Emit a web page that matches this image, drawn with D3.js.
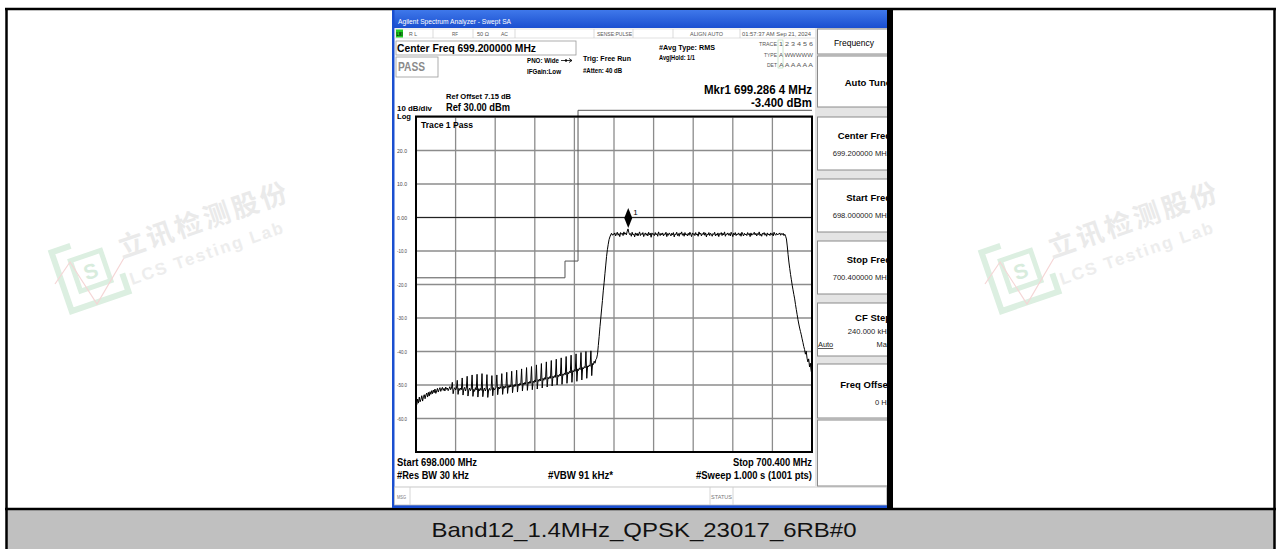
<!DOCTYPE html>
<html><head><meta charset="utf-8">
<script src="https://cdn.jsdelivr.net/npm/d3@7"></script>
<style>html,body{margin:0;padding:0;background:#fff;overflow:hidden}</style>
</head><body><svg id="c" width="1280" height="549"></svg>
<script>
// ---------------- data ----------------
const startFreq = 698.0, stopFreq = 700.4;
const refLevel = 30, bottomLevel = -70;
const yTickValues = [20, 10, 0, -10, -20, -30, -40, -50, -60];
const yTickLabels = ["20.0", "10.0", "0.00", "-10.0", "-20.0", "-30.0", "-40.0", "-50.0", "-60.0"];
// trace levels (dBm), evenly spaced across the sweep 698.000 - 700.400 MHz
const traceLevels = [
  -54.6,-55.8,-54.2,-55.4,-53.6,-55.0,-54.3,-53.2,-54.8,-53.5,
  -52.9,-54.1,-53.0,-52.4,-53.6,-52.2,-53.3,-52.0,-52.8,-51.7,
  -52.6,-51.5,-52.3,-51.2,-52.5,-51.8,-51.0,-52.1,-51.4,-50.8,
  -51.9,-51.2,-50.7,-51.6,-51.0,-51.8,-50.6,-51.3,-50.9,-51.7,
  -51.1,-50.5,-51.4,-51.0,-49.2,-52.6,-51.3,-50.8,-51.5,-51.1,
  -48.6,-52.8,-51.0,-51.6,-50.9,-51.4,-47.9,-53.0,-51.2,-50.7,
  -51.8,-51.0,-47.4,-53.3,-51.5,-50.9,-51.7,-51.2,-47.0,-53.4,
  -51.3,-51.9,-50.8,-51.5,-46.8,-53.6,-51.1,-51.7,-51.0,-51.6,
  -46.6,-53.5,-51.4,-50.9,-51.8,-51.2,-46.9,-53.7,-51.5,-51.0,
  -51.6,-51.3,-47.2,-53.2,-50.8,-51.5,-51.1,-50.7,-47.0,-52.9,
  -50.6,-51.2,-50.5,-51.0,-46.6,-52.8,-50.4,-51.0,-50.3,-50.8,
  -46.2,-52.5,-50.2,-50.7,-50.0,-50.6,-45.9,-52.3,-50.1,-50.5,
  -49.8,-50.4,-45.6,-52.1,-49.7,-50.2,-49.5,-50.0,-45.2,-51.8,
  -49.4,-49.9,-49.2,-49.8,-44.8,-51.6,-49.1,-49.6,-48.9,-49.5,
  -44.5,-51.4,-48.8,-49.3,-48.5,-49.1,-44.0,-51.2,-48.4,-48.9,
  -48.2,-48.8,-43.6,-50.9,-48.0,-48.6,-47.8,-48.3,-43.1,-50.6,
  -47.7,-48.2,-47.5,-48.0,-42.7,-50.3,-47.4,-47.9,-47.2,-47.7,
  -42.3,-50.0,-47.0,-47.5,-46.8,-47.3,-41.9,-49.8,-46.7,-47.1,
  -46.4,-46.9,-41.5,-49.5,-46.2,-46.7,-45.9,-46.4,-41.1,-49.2,
  -45.7,-46.1,-45.4,-45.9,-40.7,-48.9,-45.2,-45.7,-44.9,-45.4,
  -40.3,-48.5,-44.8,-45.2,-44.5,-44.9,-40.0,-48.0,-44.3,-44.6,
  -44.0,-44.4,-39.8,-47.2,-43.6,-43.9,-42.9,-43.5,-42.4,-42.0,
  -40.8,-38.2,-35.5,-32.6,-30.0,-27.3,-24.8,-21.9,-19.5,-16.8,
  -14.2,-11.6,-9.6,-8.0,-6.6,-5.8,-5.2,-4.7,-5.3,-4.9,
  -5.1,-4.6,-5.5,-4.9,-4.4,-5.3,-4.8,-5.7,-4.5,-5.0,
  -4.7,-5.4,-4.3,-5.0,-4.6,-5.2,-4.1,-3.4,-4.5,-5.1,
  -4.8,-5.6,-4.4,-5.2,-4.9,-5.8,-4.6,-5.3,-4.7,-5.5,
  -4.9,-4.3,-5.4,-4.8,-5.1,-4.5,-5.7,-5.0,-4.6,-5.3,
  -4.8,-5.5,-4.4,-5.2,-4.7,-5.9,-4.6,-5.1,-4.9,-5.4,
  -4.5,-5.2,-4.8,-5.6,-4.3,-5.0,-5.4,-4.7,-5.2,-4.6,
  -5.5,-4.9,-5.1,-4.4,-5.7,-4.8,-5.3,-4.6,-5.0,-5.5,
  -4.7,-5.2,-4.5,-5.8,-4.9,-5.1,-4.4,-5.4,-4.8,-5.6,
  -4.6,-5.0,-4.3,-5.3,-4.8,-5.6,-4.5,-5.2,-4.9,-5.5,
  -4.7,-5.3,-4.4,-5.0,-5.7,-4.6,-5.1,-4.8,-5.4,-4.5,
  -5.2,-4.9,-5.6,-4.3,-5.0,-4.7,-5.5,-4.8,-5.1,-4.4,
  -5.3,-4.6,-5.8,-4.9,-5.2,-4.5,-5.4,-4.7,-5.0,-5.6,
  -4.8,-5.1,-4.4,-5.5,-4.9,-5.3,-4.6,-5.7,-4.8,-5.0,
  -4.5,-5.4,-4.7,-5.2,-4.3,-5.6,-4.9,-5.1,-4.6,-5.3,
  -4.8,-5.5,-4.4,-5.0,-5.7,-4.7,-5.2,-4.5,-5.4,-4.9,
  -5.1,-4.6,-5.3,-4.8,-5.6,-4.4,-5.0,-5.5,-4.7,-5.2,
  -4.9,-5.4,-4.5,-5.1,-4.8,-5.7,-4.6,-5.3,-4.9,-5.0,
  -4.4,-5.2,-4.7,-5.5,-4.8,-5.1,-4.3,-5.4,-4.9,-5.6,
  -4.7,-5.0,-4.5,-5.3,-4.8,-5.6,-4.6,-5.2,-4.9,-5.4,
  -4.6,-5.1,-4.8,-5.5,-4.4,-5.0,-5.3,-4.7,-5.2,-4.9,
  -5.0,-4.6,-5.3,-4.8,-5.1,-4.7,-5.4,-5.0,-5.6,-6.4,
  -8.5,-11.0,-13.3,-15.2,-17.0,-18.6,-20.2,-21.6,-23.0,-24.3,
  -26.0,-27.5,-29.0,-30.5,-31.8,-33.0,-34.0,-35.0,-36.2,-37.3,
  -38.5,-39.4,-40.8,-39.9,-42.0,-43.1,-42.2,-44.6,-43.5,-45.8,
  -47.0
];
// limit line
const limitFreqs  = [698.0, 698.903, 698.903, 698.982, 698.982, 700.4];
const limitLevels = [-18,   -18,     -13,     -13,     32,      32];
const markerFreq = 699.2864, markerLevel = -3.4;
// soft keys
const softkeyLabels = ["Frequency", "Auto Tune", "Center Freq", "Start Freq", "Stop Freq", "CF Step", "Freq Offset", ""];
const softkeyValues = ["", "", "699.200000 MHz", "698.000000 MHz", "700.400000 MHz", "240.000 kHz", "0 Hz", ""];
const caption = "Band12_1.4MHz_QPSK_23017_6RB#0";

// ---------------- drawing ----------------
const svg = d3.select("#c");
const defs = svg.append("defs");
const F = "'Liberation Sans', Arial, Helvetica, sans-serif";
function T(g, x, y, s, o = {}) {
  const t = g.append("text").attr("x", x).attr("y", y).text(s)
    .attr("font-family", o.family || F).attr("font-size", o.size || 8)
    .attr("font-weight", o.bold ? "bold" : "normal").attr("fill", o.fill || "#000");
  if (o.anchor) t.attr("text-anchor", o.anchor);
  if (o.w) t.attr("textLength", o.w).attr("lengthAdjust", "spacingAndGlyphs");
  if (o.ls) t.attr("letter-spacing", o.ls);
  return t;
}

// table
svg.append("rect").attr("x", 7).attr("y", 510).attr("width", 1267).attr("height", 39).attr("fill", "#c0c0c0");
svg.append("line").attr("x1", 5).attr("x2", 1276).attr("y1", 9).attr("y2", 9).attr("stroke", "#000").attr("stroke-width", 2.5);
svg.append("line").attr("x1", 5).attr("x2", 1276).attr("y1", 509).attr("y2", 509).attr("stroke", "#000").attr("stroke-width", 2.5);
svg.append("line").attr("x1", 6.5).attr("x2", 6.5).attr("y1", 8).attr("y2", 549).attr("stroke", "#000").attr("stroke-width", 2.5);
svg.append("line").attr("x1", 1274.5).attr("x2", 1274.5).attr("y1", 8).attr("y2", 549).attr("stroke", "#000").attr("stroke-width", 2.5);
T(svg, 644, 537, caption, { size: 21, anchor: "middle", fill: "#111", w: 425 });

// watermarks
function watermark(dx) {
  const g = svg.append("g").attr("transform", `translate(${dx},0)`);
  const lg = g.append("g").attr("transform", "translate(90,272) rotate(-19)");
  lg.append("path").attr("d", "M-10,-31 L-30,-31 L-30,31 L30,31 L30,12")
    .attr("fill", "none").attr("stroke", "#dcefe1").attr("stroke-width", 6);
  lg.append("rect").attr("x", -15).attr("y", -17).attr("width", 32).attr("height", 32)
    .attr("fill", "none").attr("stroke", "#dcefe1").attr("stroke-width", 5);
  T(lg, 1, 7, "S", { size: 21, bold: true, fill: "#d8ecdd", anchor: "middle" });
  g.append("polyline").attr("points", "55,284 70,262 97,304 124,258")
    .attr("fill", "none").attr("stroke", "#f5d6d6").attr("stroke-width", 1.2);
  T(g, 0, 0, "立讯检测股份", { size: 27, bold: true, fill: "#eaeaea", ls: 3, family: "'Noto Sans CJK SC', sans-serif" })
    .attr("transform", "translate(122,258) rotate(-19)");
  T(g, 0, 0, "LCS Testing Lab", { size: 17, bold: true, fill: "#ededed", ls: 2 })
    .attr("transform", "translate(132,285) rotate(-19)");
}
watermark(0);
watermark(930);

// ---------- analyzer screenshot ----------
const S = svg.append("g");
S.append("rect").attr("x", 392).attr("y", 10).attr("width", 496).attr("height", 498).attr("fill", "#fff");
const grad = defs.append("linearGradient").attr("id", "tb").attr("x1", 0).attr("x2", 0).attr("y1", 0).attr("y2", 1);
grad.append("stop").attr("offset", "0%").attr("stop-color", "#3f78ea");
grad.append("stop").attr("offset", "100%").attr("stop-color", "#1a4fd0");
S.append("rect").attr("x", 392).attr("y", 10).attr("width", 496).attr("height", 18).attr("fill", "url(#tb)");
S.append("rect").attr("x", 392).attr("y", 10).attr("width", 2.5).attr("height", 498).attr("fill", "#1a4fd0");
S.append("rect").attr("x", 392).attr("y", 505).attr("width", 496).attr("height", 3).attr("fill", "#1a4fd0");
S.append("rect").attr("x", 887).attr("y", 10).attr("width", 6).attr("height", 499).attr("fill", "#000");
T(S, 398, 24, "Agilent Spectrum Analyzer - Swept SA", { size: 7, fill: "#fff", w: 113 });

// info row
S.append("rect").attr("x", 395).attr("y", 29).attr("width", 421).attr("height", 9).attr("fill", "#fff").attr("stroke", "#ccc").attr("stroke-width", 0.6);
S.append("rect").attr("x", 396).attr("y", 29.5).attr("width", 7).attr("height", 8).attr("fill", "#22cc22");
T(S, 396.5, 36, "LXI", { size: 4.5, bold: true, w: 6 });
[433, 473, 515, 594, 633, 673, 740].forEach(xx => S.append("line").attr("x1", xx).attr("x2", xx).attr("y1", 29).attr("y2", 38).attr("stroke", "#ccc").attr("stroke-width", 0.7));
const info = [[409, "R L"], [452, "RF"], [477, "50 Ω"], [501, "AC"], [597, "SENSE:PULSE"], [690, "ALIGN AUTO"], [742, "01:57:37 AM Sep 21, 2024"]];
const infoW = [8, 6, 12, 7, 35, 33, 69];
info.forEach((d, i) => T(S, d[0], 36, d[1], { size: 6, fill: "#555", w: infoW[i] }));

// header boxes
S.append("rect").attr("x", 396).attr("y", 41).attr("width", 180).attr("height", 14).attr("fill", "#fff").attr("stroke", "#999").attr("stroke-width", 0.8);
T(S, 397, 52, "Center Freq 699.200000 MHz", { size: 10.5, bold: true, w: 139 });
S.append("rect").attr("x", 396).attr("y", 57).attr("width", 42).attr("height", 20).attr("fill", "#fff").attr("stroke", "#999").attr("stroke-width", 0.8);
T(S, 398, 71, "PASS", { size: 12, bold: true, fill: "#8a8a8a", w: 27 });
T(S, 527, 63, "PNO: Wide", { size: 6.5, bold: true, w: 32 });
S.append("line").attr("x1", 561).attr("x2", 572).attr("y1", 60.5).attr("y2", 60.5).attr("stroke", "#000").attr("stroke-width", 0.8);
S.append("path").attr("d", "M569,58.5 L572,60.5 L569,62.5").attr("fill", "none").attr("stroke", "#000").attr("stroke-width", 0.8);
S.append("circle").attr("cx", 566).attr("cy", 60.5).attr("r", 1.2).attr("fill", "#000");
T(S, 527, 74, "IFGain:Low", { size: 6.5, bold: true, w: 34 });
T(S, 583, 61, "Trig: Free Run", { size: 7.5, bold: true, w: 48 });
T(S, 583, 73, "#Atten: 40 dB", { size: 7.5, bold: true, w: 39 });
T(S, 659, 50, "#Avg Type: RMS", { size: 7.5, bold: true, w: 56 });
T(S, 659, 60, "Avg|Hold: 1/1", { size: 7.5, bold: true, w: 36 });
T(S, 777, 46, "TRACE", { size: 5, fill: "#555", anchor: "end", w: 18 });
T(S, 779, 46, "1 2 3 4 5 6", { size: 6, fill: "#555", w: 34 });
T(S, 777, 57, "TYPE", { size: 5, fill: "#555", anchor: "end", w: 13 });
T(S, 779, 57, "A WWWWW", { size: 5.5, fill: "#555", w: 34 });
T(S, 777, 67, "DET", { size: 5, fill: "#555", anchor: "end", w: 10 });
T(S, 779, 67, "A A A A A A", { size: 6, fill: "#555", w: 34 });
S.append("rect").attr("x", 778).attr("y", 40).attr("width", 5).attr("height", 28).attr("fill", "none").attr("stroke", "#9c9").attr("stroke-width", 0.5);

T(S, 812, 94, "Mkr1 699.286 4 MHz", { size: 12.5, bold: true, anchor: "end", w: 108 });
T(S, 812, 107, "-3.400 dBm", { size: 12.5, bold: true, anchor: "end", w: 61 });
T(S, 446, 99, "Ref Offset 7.15 dB", { size: 8, bold: true, w: 65 });
T(S, 446, 111, "Ref 30.00 dBm", { size: 10.5, bold: true, w: 64 });
T(S, 397, 111, "10 dB/div", { size: 8, bold: true, w: 35 });
T(S, 397, 118.5, "Log", { size: 8, bold: true, w: 14 });

// plot
const x = d3.scaleLinear().domain([startFreq, stopFreq]).range([416, 812]);
const y = d3.scaleLinear().domain([bottomLevel, refLevel]).range([452, 117]);
const P = S.append("g");
const xDiv = d3.range(0, 11).map(i => startFreq + i * (stopFreq - startFreq) / 10);
const yDiv = d3.range(bottomLevel, refLevel + 1, 10);
P.selectAll(".vg").data(xDiv).join("line").attr("x1", d => x(d)).attr("x2", d => x(d))
  .attr("y1", y(refLevel)).attr("y2", y(bottomLevel)).attr("stroke", "#8c8c8c").attr("stroke-width", 1.3);
P.selectAll(".hg").data(yDiv).join("line").attr("x1", x(startFreq)).attr("x2", x(stopFreq))
  .attr("y1", d => y(d)).attr("y2", d => y(d)).attr("stroke", "#8c8c8c").attr("stroke-width", 1.3);
P.append("line").attr("x1", x(startFreq)).attr("x2", x(stopFreq)).attr("y1", y(0)).attr("y2", y(0)).attr("stroke", "#222").attr("stroke-width", 1);
yTickValues.forEach((v, i) => T(P, 402, y(v) + 2, yTickLabels[i], { size: 5.5, fill: "#444", anchor: "middle", w: 10 }));
T(P, 421, 128, "Trace 1 Pass", { size: 9, bold: true, w: 52 });

// limit line
const limitPts = limitFreqs.map((f, i) => [x(f), y(limitLevels[i])]);
P.append("path").attr("d", d3.line()(limitPts)).attr("fill", "none").attr("stroke", "#555").attr("stroke-width", 1);

// trace
const n = traceLevels.length;
const traceFreqs = traceLevels.map((_, i) => startFreq + i * (stopFreq - startFreq) / (n - 1));
const line = d3.line().x((d, i) => x(traceFreqs[i])).y(d => y(d));
P.append("path").attr("d", line(traceLevels)).attr("fill", "none").attr("stroke", "#000").attr("stroke-width", 1);

// frame
P.append("rect").attr("x", 416).attr("y", 116.5).attr("width", 396).attr("height", 335.5)
  .attr("fill", "none").attr("stroke", "#000").attr("stroke-width", 2);

// marker
const mx = x(markerFreq), my = y(markerLevel);
P.append("path").attr("d", `M${mx},${my - 1} L${mx - 4},${my - 11} L${mx},${my - 21} L${mx + 4},${my - 11} Z`).attr("fill", "#000");
T(P, mx + 5, my - 14, "1", { size: 8 });

// bottom annotations
T(S, 397, 466, "Start 698.000 MHz", { size: 10, bold: true, w: 80 });
T(S, 397, 479, "#Res BW 30 kHz", { size: 10, bold: true, w: 72 });
T(S, 548, 479, "#VBW 91 kHz*", { size: 10, bold: true, w: 65 });
T(S, 812, 466, "Stop 700.400 MHz", { size: 10, bold: true, anchor: "end", w: 79 });
T(S, 812, 479, "#Sweep  1.000 s (1001 pts)", { size: 10, bold: true, anchor: "end", w: 116 });

// status bar
S.append("rect").attr("x", 394.5).attr("y", 487).attr("width", 492).attr("height", 18).attr("fill", "#fff").attr("stroke", "#bbb").attr("stroke-width", 0.8);
[410, 710, 733].forEach(xx => S.append("line").attr("x1", xx).attr("x2", xx).attr("y1", 487).attr("y2", 505).attr("stroke", "#ccc").attr("stroke-width", 0.8));
T(S, 397, 499, "MSG", { size: 4.5, fill: "#777", w: 9 });
T(S, 711, 499, "STATUS", { size: 4.5, fill: "#777", w: 21 });

// soft keys
S.append("rect").attr("x", 815).attr("y", 28).attr("width", 72).attr("height", 459).attr("fill", "#e4e4e4");
const clip = defs.append("clipPath").attr("id", "sk");
clip.append("rect").attr("x", 815).attr("y", 28).attr("width", 72).attr("height", 460);
const K = S.append("g").attr("clip-path", "url(#sk)");
const keyBox = [[29, 54], [56, 107], [117, 170], [179, 232], [241, 294], [303, 356], [364, 418], [420, 486]];
const keyLabelY = [46, 86, 139, 201, 263, 321, 388, 0];
const keyValueY = [0, 0, 156, 218, 280, 334, 405, 0];
keyBox.forEach((b, i) => {
  K.append("rect").attr("x", 817.5).attr("y", b[0]).attr("width", 75).attr("height", b[1] - b[0])
    .attr("fill", "#fff").attr("stroke", "#8a8a8a").attr("stroke-width", 1);
  if (i === 0) T(K, 854, keyLabelY[i], softkeyLabels[i], { size: 8.5, anchor: "middle" });
  else if (softkeyLabels[i]) T(K, 891, keyLabelY[i], softkeyLabels[i], { size: 9.5, bold: true, anchor: "end" });
  if (softkeyValues[i]) T(K, 890.5, keyValueY[i], softkeyValues[i], { size: 7.6, anchor: "end", fill: "#222" });
});
T(K, 818, 347, "Auto", { size: 7.4, fill: "#222" }).attr("text-decoration", "underline");
T(K, 891, 347, "Man", { size: 7.4, anchor: "end", fill: "#222" });
</script>
</body></html>
